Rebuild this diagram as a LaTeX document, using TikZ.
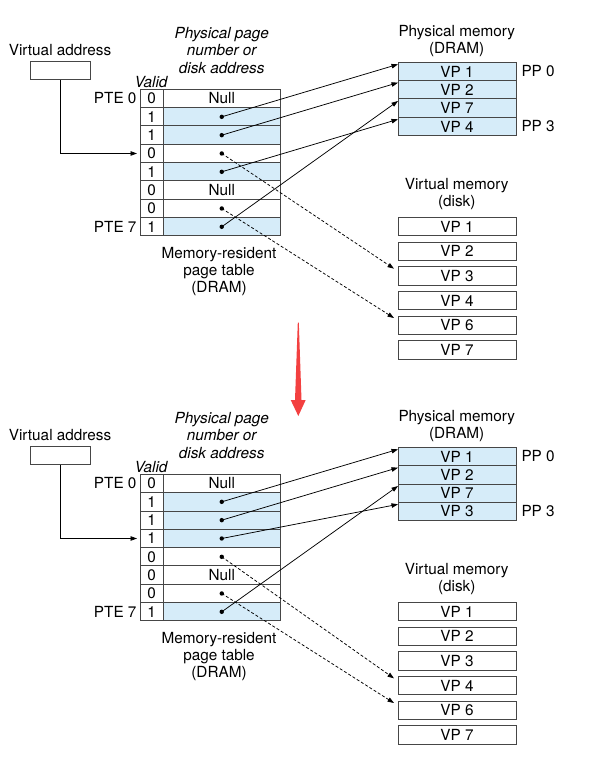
\documentclass[tikz,border=0pt]{standalone}
\usepackage{fontspec}
\setmainfont{TeX Gyre Heros}
\usepackage{tikz}
\usetikzlibrary{
    arrows.meta,
    positioning
}
\usepackage{xcolor}
\definecolor{pageblue}{RGB}{214,236,249}
\definecolor{cellgray}{RGB}{70,70,70}
\definecolor{faultred}{RGB}{243,64,64}

\newcommand{\figfont}{\fontsize{15.3}{17.4}\selectfont}

\newcommand{\vmpanel}[5]{%
    \node (#1valabel) at (60,50) {Virtual address};
    \node[addrbox] (#1va) at (60.7,70.8) {};
    \node[font=\figfont\itshape, align=center] (#1ppnlabel) at (221.7,50.5)
        {Physical page\\number or\\disk address};
    \node[font=\figfont\itshape] (#1validlabel) at (151,82) {Valid};
    \foreach \bit [count=\row from 0] in {#2} {
        \ifnum\bit=1 \colorlet{cellfill}{pageblue}\else\colorlet{cellfill}{white}\fi
        \node[validcell] (#1v\row) at (151.75,{98.5+18.33*\row}) {\bit};
        \node[ppncell, fill=cellfill] (#1p\row) at (221.75,{98.5+18.33*\row})
            {\ifnum\row=0 Null\fi\ifnum\row=5 Null\fi};
    }
    \node[left=0pt of #1v0] (#1pte0) {PTE 0};
    \node[left=0pt of #1v7] (#1pte7) {PTE 7};
    \node[align=center] (#1ptlabel) at (219,271.5)
        {Memory-resident\\page table\\(DRAM)};
    \node[align=center] (#1pmlabel) at (456.7,41) {Physical memory\\(DRAM)};
    \foreach \vp [count=\slot from 0] in {#3}
        \node[memcell, fill=pageblue] (#1m\slot) at (457,{71.5+18.33*\slot}) {VP \vp};
    \node[right=2pt of #1m0] (#1pp0) {PP 0};
    \node[right=2pt of #1m3] (#1pp3) {PP 3};
    \node[align=center] (#1dlabel) at (456.7,194.3) {Virtual memory\\(disk)};
    \foreach \vp [count=\slot from 0] in {1,2,3,4,6,7}
        \node[memcell] (#1d\slot) at (457,{226.5+24.67*\slot}) {VP \vp};
    \draw[ptr, shorten >=3pt] (#1va.south) |- (#1v3.west);
    \foreach \row/\slot in {#4} {
        \fill (#1p\row) circle[radius=2.2pt];
        \draw[ptr] (#1p\row.center) -- ([yshift=-2pt]#1m\slot.north west);
    }
    \foreach \row/\slot in {#5} {
        \fill (#1p\row) circle[radius=2.2pt];
        \draw[ptr, dash pattern=on 3pt off 2pt]
            (#1p\row.center) -- ([xshift=-4pt,yshift=-2pt]#1d\slot.north west);
    }
}

\begin{document}
\begin{tikzpicture}[
        x=1pt,
        y=-1pt,
        font=\figfont,
        ptr/.style={
            -{Triangle[length=6.5pt,width=4.5pt]},
            line width=0.75pt
        },
        addrbox/.style={
            draw=cellgray,
            line width=1pt,
            minimum width=60pt,
            minimum height=18.3pt,
            inner sep=0pt
        },
        validcell/.style={
            draw=cellgray,
            line width=1pt,
            minimum width=23.5pt,
            minimum height=18.33pt,
            inner sep=0pt,
            outer sep=0pt
        },
        ppncell/.style={
            validcell,
            minimum width=116.5pt
        },
        memcell/.style={
            validcell,
            minimum width=118pt
        }
    ]
    \useasboundingbox (0,0) rectangle (597,759);

    \begin{scope}
        \vmpanel{t}{0,1,1,0,1,0,0,1}{1,2,7,4}{1/0,2/1,4/3,7/2}{3/2,6/4}
    \end{scope}

    \fill[faultred] (297.8,322.5) -- (298.8,322.5) -- (301.5,400) -- (305.7,400)
        -- (298.3,416) -- (290.7,400) -- (295,400) -- cycle;

    \begin{scope}[yshift=-385pt]
        \vmpanel{b}{0,1,1,1,0,0,0,1}{1,2,7,3}{1/0,2/1,3/3,7/2}{4/3,6/4}
    \end{scope}
\end{tikzpicture}
\end{document}
